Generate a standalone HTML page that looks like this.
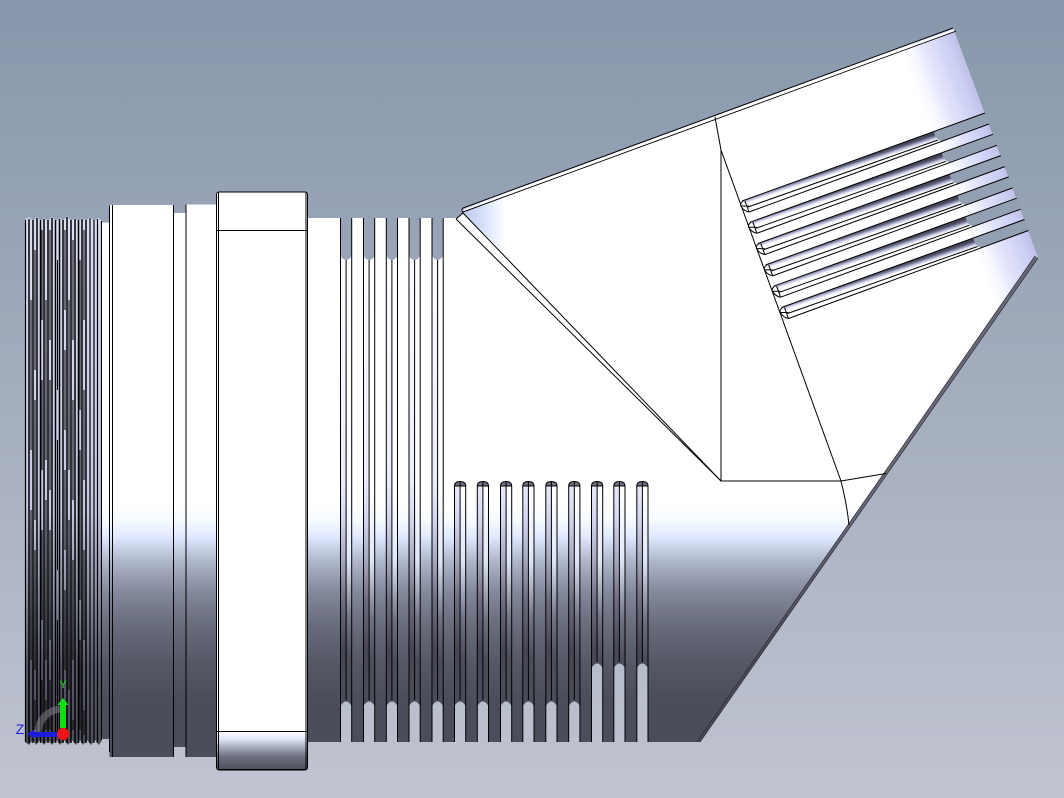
<!DOCTYPE html>
<html>
<head>
<meta charset="utf-8">
<style>
html,body{margin:0;padding:0;width:1064px;height:798px;overflow:hidden;background:#8797ab}
svg{display:block}
</style>
</head>
<body>
<svg width="1064" height="798" viewBox="0 0 1064 798" xmlns="http://www.w3.org/2000/svg">
<defs>
<linearGradient id="bg" gradientUnits="userSpaceOnUse" x1="0" y1="0" x2="0" y2="798">
<stop offset="0" stop-color="#8797ab"/><stop offset="1" stop-color="#c1c4d1"/>
</linearGradient>
<linearGradient id="body" gradientUnits="userSpaceOnUse" x1="0" y1="0" x2="0" y2="798">
<stop offset=".633" stop-color="#ffffff"/>
<stop offset=".652" stop-color="#f6fbff"/>
<stop offset=".673" stop-color="#dfe8ff"/>
<stop offset=".702" stop-color="#b0b8cc"/>
<stop offset=".743" stop-color="#82879a"/>
<stop offset=".786" stop-color="#676b7a"/>
<stop offset=".833" stop-color="#555765"/>
<stop offset=".877" stop-color="#4c4d5b"/>
<stop offset="1" stop-color="#4c4d5a"/>
</linearGradient>
<linearGradient id="thread" gradientUnits="userSpaceOnUse" x1="0" y1="220" x2="0" y2="745">
<stop offset="0" stop-color="#dadcf2"/>
<stop offset=".55" stop-color="#c4c8e2"/>
<stop offset=".72" stop-color="#878b9e"/>
<stop offset=".85" stop-color="#575869"/>
<stop offset="1" stop-color="#4c4d5a"/>
</linearGradient>
<linearGradient id="flangeB" gradientUnits="userSpaceOnUse" x1="0" y1="731" x2="0" y2="770">
<stop offset="0" stop-color="#ffffff"/>
<stop offset=".2" stop-color="#dfe6f6"/>
<stop offset=".45" stop-color="#a0a5b6"/>
<stop offset=".65" stop-color="#6e7180"/>
<stop offset="1" stop-color="#4d4e5c"/>
</linearGradient>
<linearGradient id="endG" gradientUnits="userSpaceOnUse" x1="895" y1="49" x2="965" y2="23">
<stop offset="0" stop-color="#ffffff" stop-opacity="0"/>
<stop offset=".35" stop-color="#e6e8fd"/>
<stop offset=".7" stop-color="#cbcdf3"/>
<stop offset=".9" stop-color="#b8b9e0"/>
<stop offset="1" stop-color="#a2a2c0"/>
</linearGradient>
<linearGradient id="cornerG" gradientUnits="userSpaceOnUse" x1="464" y1="0" x2="505" y2="0">
<stop offset="0" stop-color="#c0c8e6"/>
<stop offset=".5" stop-color="#d8e2fc"/>
<stop offset="1" stop-color="#ffffff"/>
</linearGradient>
<linearGradient id="band" gradientUnits="userSpaceOnUse" x1="840" y1="165.5" x2="842" y2="171.500">
<stop offset="0" stop-color="#44455a"/>
<stop offset=".3" stop-color="#6c6d88"/>
<stop offset=".6" stop-color="#b8bad8"/>
<stop offset="1" stop-color="#ffffff"/>
</linearGradient>
<linearGradient id="rim" gradientUnits="userSpaceOnUse" x1="0" y1="520" x2="0" y2="640">
<stop offset="0" stop-color="#686978"/><stop offset="1" stop-color="#4c4d5a"/>
</linearGradient>
<linearGradient id="sl" gradientUnits="userSpaceOnUse" x1="0" y1="0" x2="0" y2="798">
<stop offset=".33" stop-color="#fbfbff"/>
<stop offset=".6" stop-color="#eceefc"/>
<stop offset=".652" stop-color="#d4d6f0"/>
<stop offset=".702" stop-color="#a6a8c0"/>
<stop offset=".752" stop-color="#6e6c80"/>
<stop offset=".815" stop-color="#474555"/>
<stop offset=".877" stop-color="#4b4c5a"/>
</linearGradient>
<linearGradient id="sr" gradientUnits="userSpaceOnUse" x1="0" y1="0" x2="0" y2="798">
<stop offset=".62" stop-color="#ffffff"/>
<stop offset=".702" stop-color="#dfe6f8"/>
<stop offset=".74" stop-color="#a4aaba"/>
<stop offset=".777" stop-color="#6c7080"/>
<stop offset=".827" stop-color="#4c4d5b"/>
</linearGradient>

<g id="rowA">
<rect x="0" y="218" width="5.6" height="524" fill="url(#sl)"/>
<rect x="5.6" y="218" width="5.6" height="524" fill="url(#sr)"/>
<path d="M0 218V256Q5.6 264 11.2 256V218Z" fill="url(#bg)"/>
<path d="M0 742V706Q5.6 697 11.2 706V742Z" fill="url(#bg)"/>
<path d="M0 218V742M11.2 218V742M5.6 260V700" stroke="#000" stroke-width="1" fill="none"/>
</g>
<g id="rowB">
<rect x="0" y="486" width="5.6" height="256" fill="url(#sl)"/>
<rect x="5.6" y="486" width="5.6" height="256" fill="url(#sr)"/>
<path d="M0 486Q0 481.5 5.6 481.5Q11.2 481.5 11.2 486Z" fill="#70727f"/>
<path d="M0 742V706Q5.6 697 11.2 706V742Z" fill="url(#bg)"/>
<path d="M0 742V486Q0 481.5 5.6 481.5Q11.2 481.5 11.2 486V742M0 486H11.2M5.6 481.5V700" stroke="#000" stroke-width="1" fill="none"/>
</g>
<g id="rowC">
<rect x="0" y="486" width="5.6" height="256" fill="url(#sl)"/>
<rect x="5.6" y="486" width="5.6" height="256" fill="url(#sr)"/>
<path d="M0 486Q0 481.5 5.6 481.5Q11.2 481.5 11.2 486Z" fill="#70727f"/>
<path d="M0 742V668Q5.6 659 11.2 668V742Z" fill="url(#bg)"/>
<path d="M0 742V486Q0 481.5 5.6 481.5Q11.2 481.5 11.2 486V742M0 486H11.2M5.6 481.5V662" stroke="#000" stroke-width="1" fill="none"/>
</g>
<g id="armSlot">
<polygon points="743,201 934,131.5 938,140 748,207" fill="url(#band)"/>
<path d="M934 131.5Q935 139 942 141.5L989 124L985 113Z" fill="#93a0b3"/>
<path d="M742 201L985 113M749 212L989 124M748 207L938 140" stroke="#000" stroke-width="1" fill="none"/>
<path d="M743 201Q739 204 741.500 207Q744 211 749 212M745 201L749 212M741 206L749 206" stroke="#000" stroke-width="1" fill="none"/>
</g>
</defs>

<rect width="1064" height="798" fill="url(#bg)"/>

<!-- threaded end -->
<path d="M25 220L29 217L33 221L37 217L41 221L44 218L48 221L52 217L56 221L60 218L63 221L67 216L71 221L75 218L78 221L82 218L86 221L90 217L94 221L98 218L102 221V740L99 745L95 740L91 745L87 740L83 745L80 740L76 745L72 740L68 745L64 740L60 745L56 740L52 745L48 740L44 745L40 740L36 745L33 740L29 745L25 742Z" fill="url(#thread)"/>
<g stroke="#000" stroke-width="1.5" fill="none">
<path d="M29 219V743M33 220V743M37 218V743M40.500 220V743M44 219V743M48 220V743M52 218V743M55.500 220V743M59.500 219V743M63 220V743M67 217V743M71 220V743M75 219V743M78.500 220V743M82 219V743M86 220V743"/>
</g>
<g stroke="#000" stroke-width="1.200" fill="none">
<path d="M90 218V743M94 220V743M97.500 219V743"/>
</g>
<g stroke="#000" fill="none" stroke-width="1">
<path d="M31 300V720" stroke-dasharray="150 60"/>
<path d="M35 250V730" stroke-dasharray="120 30"/>
<path d="M42 230V735" stroke-dasharray="90 60"/>
<path d="M46 300V730" stroke-dasharray="160 40"/>
<path d="M50 230V730" stroke-dasharray="110 40"/>
<path d="M57.500 260V735" stroke-dasharray="130 50"/>
<path d="M65 230V730" stroke-dasharray="80 40"/>
<path d="M69 300V735" stroke-dasharray="170 50"/>
<path d="M73 240V730" stroke-dasharray="100 60"/>
<path d="M80 260V730" stroke-dasharray="150 40"/>
<path d="M84 230V735" stroke-dasharray="90 70"/>
</g>
<path d="M25.500 220V742M101.500 221V740" stroke="#000" stroke-width="1.2"/>

<!-- main silhouette: shaft + arm -->
<path d="M102 222.500H109.500V205H173.500V213H186V204.500H217V218H456L456 219L463 213Q461 210 463 208L953 28L1038 258L700 742H307V757H217V757H186V747H173.500V757H109.500V739H102Z" fill="url(#body)"/>

<!-- end-of-arm shading and left corner shading -->
<polygon points="895,50 953,28 1038,258 1000,312 975,270" fill="url(#endG)"/>
<polygon points="463,213 463,208 510,191 510,259" fill="url(#cornerG)"/>

<!-- top edge -->
<path d="M463 208L953 28" stroke="#000" stroke-width="1"/>
<path d="M463 212L956 31" stroke="#000" stroke-width="1"/>
<polygon points="464,209.500 953,29.500 955,31 464,211" fill="#fff"/>
<path d="M456 219L463 213Q461 210 463 208" stroke="#000" stroke-width="1" fill="none"/>

<!-- lower-right rim -->
<polygon points="700,742 1038,258 1035,256 697,742" fill="url(#rim)"/>
<path d="M700 742L1038 258" stroke="#2a2a34" stroke-width=".7"/>
<path d="M697 742L1035 256" stroke="#2a2a34" stroke-width=".7"/>

<!-- construction edges -->
<g stroke="#000" fill="none" stroke-width="1">
<path d="M715 117L721 150L841 481Q847 505 849 525"/>
<path d="M721 150V481H841L886 473.500"/>
<path d="M463 213L721 481"/>
<path d="M456 219L721 481"/>
</g>

<!-- arm slots -->
<use href="#armSlot"/>
<use href="#armSlot" transform="translate(7.9 21.3)"/>
<use href="#armSlot" transform="translate(15.8 42.6)"/>
<use href="#armSlot" transform="translate(23.7 63.9)"/>
<use href="#armSlot" transform="translate(31.6 85.2)"/>
<use href="#armSlot" transform="translate(39.5 106.5)"/>

<!-- shaft ring lines -->
<g stroke="#000" stroke-width="1" fill="none">
<path d="M109.500 205.500V752M112.500 205V757M173.500 205V757M186 204.500V757"/>
</g>

<!-- flange -->
<rect x="216.500" y="192" width="91" height="578" rx="2.500" fill="#fff" stroke="#000" stroke-width="1"/>
<rect x="217" y="731" width="90" height="38.500" fill="url(#flangeB)"/>
<path d="M218.500 192V770M306 192V770M217 230.500H307M217 731.500H307M218 769.500H306" stroke="#000" stroke-width="1" fill="none"/>

<!-- shaft grooves -->
<use href="#rowA" x="340.500"/><use href="#rowA" x="363.500"/><use href="#rowA" x="386.300"/>
<use href="#rowA" x="409"/><use href="#rowA" x="432"/>
<use href="#rowB" x="454.500"/><use href="#rowB" x="477.300"/><use href="#rowB" x="500.500"/>
<use href="#rowB" x="522.800"/><use href="#rowB" x="545.800"/><use href="#rowB" x="568.700"/>
<use href="#rowC" x="591.500"/><use href="#rowC" x="613.800"/><use href="#rowC" x="636.800"/>

<!-- triad -->
<path d="M38 733A24 24 0 0 1 62 709" stroke="#a0a2aa" stroke-width="7" fill="none" opacity=".4"/>
<path d="M63 733L60 726M63 733L66 726" stroke="#e01010" stroke-width="1"/>
<polygon points="63,698 68.500,705 66,705 66,728 60,728 60,705 57.500,705" fill="#10e010"/>
<polygon points="27,734 34,729.500 34,732 58,732 58,737 34,737 34,738.500" fill="#1c1cdc"/>
<circle cx="63" cy="734" r="6" fill="#f01414"/>
<text x="63" y="688" font-family="Liberation Sans, sans-serif" font-size="11" fill="#18e018" text-anchor="middle">Y</text>
<text x="20" y="734" font-family="Liberation Sans, sans-serif" font-size="14" fill="#2020e0" text-anchor="middle">Z</text>
</svg>
</body>
</html>
